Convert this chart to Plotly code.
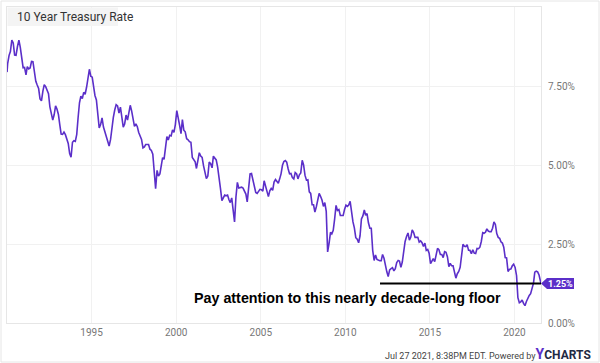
import plotly.graph_objects as go

# ---- Data (monthly 10-year Treasury rate, %) ----
years = list(range(1990, 2022))
rates_by_year = {
    1990: [8.21, 8.47, 8.59, 8.95, 8.86, 8.48, 8.47, 8.75, 8.95, 8.72, 8.39, 8.08],
    1991: [8.09, 7.85, 8.11, 8.04, 8.07, 8.28, 8.27, 7.90, 7.65, 7.53, 7.42, 7.09],
    1992: [7.03, 7.34, 7.54, 7.48, 7.39, 7.26, 6.84, 6.59, 6.42, 6.59, 6.87, 6.77],
    1993: [6.60, 6.26, 5.98, 5.97, 6.04, 5.96, 5.81, 5.68, 5.36, 5.25, 5.72, 5.77],
    1994: [5.75, 5.97, 6.48, 6.97, 7.18, 7.10, 7.30, 7.24, 7.46, 7.74, 8.03, 7.81],
    1995: [7.78, 7.47, 7.20, 7.06, 6.63, 6.17, 6.28, 6.49, 6.20, 6.04, 5.93, 5.71],
    1996: [5.60, 5.81, 6.27, 6.51, 6.74, 6.91, 6.87, 6.64, 6.83, 6.53, 6.20, 6.30],
    1997: [6.58, 6.42, 6.69, 6.89, 6.71, 6.49, 6.22, 6.30, 6.21, 6.03, 5.88, 5.81],
    1998: [5.54, 5.57, 5.65, 5.64, 5.65, 5.50, 5.46, 5.34, 4.81, 4.25, 4.83, 4.65],
    1999: [4.72, 5.00, 5.23, 5.18, 5.54, 5.90, 5.79, 5.94, 5.92, 6.11, 6.03, 6.28],
    2000: [6.72, 6.52, 6.26, 5.99, 6.44, 6.10, 6.05, 5.83, 5.80, 5.74, 5.72, 5.24],
    2001: [5.16, 5.10, 4.89, 5.14, 5.39, 5.28, 5.24, 4.97, 4.73, 4.57, 4.65, 5.09],
    2002: [5.04, 4.91, 5.28, 5.21, 5.16, 4.93, 4.65, 4.26, 3.87, 3.94, 4.05, 4.03],
    2003: [4.05, 3.90, 3.81, 3.96, 3.57, 3.20, 3.98, 4.45, 4.27, 4.29, 4.30, 4.27],
    2004: [4.15, 4.08, 3.83, 4.35, 4.72, 4.73, 4.50, 4.28, 4.13, 4.10, 4.19, 4.23],
    2005: [4.22, 4.17, 4.50, 4.34, 4.14, 4.00, 4.18, 4.26, 4.20, 4.46, 4.54, 4.47],
    2006: [4.42, 4.57, 4.72, 4.99, 5.11, 5.14, 5.09, 4.88, 4.72, 4.73, 4.60, 4.56],
    2007: [4.76, 4.72, 4.56, 4.69, 4.75, 5.15, 5.00, 4.67, 4.52, 4.53, 4.15, 4.10],
    2008: [3.74, 3.74, 3.51, 3.68, 3.88, 4.10, 4.01, 3.89, 3.69, 3.81, 3.53, 2.25],
    2009: [2.52, 2.87, 2.82, 2.93, 3.29, 3.72, 3.56, 3.59, 3.40, 3.39, 3.40, 3.59],
    2010: [3.73, 3.69, 3.73, 3.85, 3.42, 3.20, 3.01, 2.70, 2.65, 2.54, 2.76, 3.29],
    2011: [3.39, 3.58, 3.41, 3.46, 3.17, 3.00, 3.00, 2.30, 1.98, 2.15, 2.01, 1.98],
    2012: [1.97, 1.97, 2.17, 2.05, 1.80, 1.62, 1.47, 1.68, 1.72, 1.75, 1.65, 1.72],
    2013: [1.91, 1.98, 1.96, 1.76, 1.93, 2.30, 2.58, 2.74, 2.85, 2.62, 2.72, 2.95],
    2014: [2.86, 2.71, 2.72, 2.71, 2.56, 2.60, 2.54, 2.42, 2.53, 2.30, 2.33, 2.21],
    2015: [1.88, 1.98, 2.04, 1.94, 2.20, 2.36, 2.32, 2.17, 2.17, 2.07, 2.26, 2.24],
    2016: [2.09, 1.78, 1.89, 1.81, 1.81, 1.64, 1.42, 1.56, 1.63, 1.76, 2.14, 2.49],
    2017: [2.43, 2.42, 2.48, 2.30, 2.30, 2.19, 2.32, 2.21, 2.20, 2.36, 2.35, 2.40],
    2018: [2.58, 2.86, 2.84, 2.87, 2.98, 2.91, 2.89, 2.89, 3.00, 3.20, 3.12, 2.83],
    2019: [2.71, 2.68, 2.57, 2.53, 2.40, 2.07, 2.06, 1.63, 1.70, 1.71, 1.81, 1.86],
    2020: [1.76, 1.50, 0.80, 0.64, 0.67, 0.73, 0.62, 0.55, 0.68, 0.79, 0.87, 0.93],
    2021: [1.08, 1.26, 1.61, 1.64, 1.62, 1.52],
}
start_date = "1990-01-02"
start_rate = 7.94
end_date = "2021-07-27"
end_rate = 1.25
floor_start = "2012-01-20"
floor_level = 1.25

dates = [start_date]
rates = [start_rate]
for y in years:
    for m, v in enumerate(rates_by_year[y], start=1):
        dates.append(f"{y}-{m:02d}-15")
        rates.append(v)
dates.append(end_date)
rates.append(end_rate)

x_ticks = [f"{y}-01-01" for y in range(1995, 2021, 5)]
x_tick_labels = [str(y) for y in range(1995, 2021, 5)]
y_ticks = [0, 2.5, 5, 7.5]
y_tick_labels = ["0.00%", "2.50%", "5.00%", "7.50%"]

PURPLE = "#5b2fc9"

fig = go.Figure()
fig.add_trace(go.Scatter(x=dates, y=rates, mode="lines",
                         line=dict(color=PURPLE, width=1.6),
                         hoverinfo="skip", showlegend=False))

W, H = 600, 363
L, R, T, B = 7, 59, 7, 40
pw = W - L - R
ph = H - T - B

def px_x(p):
    return (p - L) / pw

def px_y(p):
    return (H - B - p) / ph

fig.update_layout(
    width=W, height=H,
    margin=dict(l=L, r=R, t=T, b=B),
    paper_bgcolor="white", plot_bgcolor="white",
    xaxis=dict(type="date", range=["1990-01-01", end_date],
               tickvals=x_ticks, ticktext=x_tick_labels,
               showgrid=True, gridcolor="#f1f1f1", gridwidth=1,
               showline=True, linecolor="#e6e6e6", mirror=True,
               zeroline=False, ticks="",
               tickfont=dict(family="Roboto", size=10, color="#777777")),
    yaxis=dict(range=[0, 10], side="right",
               tickvals=y_ticks, ticktext=y_tick_labels,
               showgrid=True, gridcolor="#f1f1f1", gridwidth=1,
               showline=True, linecolor="#e6e6e6", mirror=True,
               zeroline=False, ticks="", ticklabelstandoff=4,
               tickfont=dict(family="Roboto", size=10, color="#777777")),
    font=dict(family="Roboto"),
)

shapes = []
# outer frame
shapes.append(dict(type="rect", xref="paper", yref="paper",
                   x0=px_x(1), x1=px_x(599), y0=px_y(362), y1=px_y(1),
                   line=dict(color="#e6e6e6", width=1), layer="below"))
# title box
shapes.append(dict(type="rect", xref="paper", yref="paper",
                   x0=px_x(7.5), x1=px_x(118), y0=px_y(26), y1=px_y(7.5),
                   fillcolor="#f4f4f4", line=dict(width=0), layer="above"))
# floor line
shapes.append(dict(type="line", xref="x", yref="y",
                   x0=floor_start, x1=end_date, y0=floor_level, y1=floor_level,
                   line=dict(color="black", width=2)))
# current value marker (arrow + box)
yc = end_rate
dy = 5.5 / ph * 10
shapes.append(dict(type="path", xref="paper", yref="y",
                   path=f"M {px_x(541)},{yc} L {px_x(547)},{yc + dy} L {px_x(574)},{yc + dy} "
                        f"L {px_x(574)},{yc - dy} L {px_x(547)},{yc - dy} Z",
                   fillcolor=PURPLE, line=dict(width=0)))
fig.update_layout(shapes=shapes)

annotations = [
    dict(text="10 Year Treasury Rate", xref="paper", yref="paper",
         x=px_x(15), y=px_y(16.5), xanchor="left", yanchor="middle",
         showarrow=False, font=dict(family="Roboto", size=12, color="#333333")),
    dict(text="<b>1.25%</b>", xref="paper", yref="y",
         x=px_x(560.5), y=yc, xanchor="center", yanchor="middle",
         showarrow=False, font=dict(family="Roboto", size=9, color="white")),
    dict(text="<b>Pay attention to this nearly decade-long floor</b>",
         xref="paper", yref="paper", x=px_x(347.5), y=px_y(297.5),
         xanchor="center", yanchor="middle", showarrow=False,
         font=dict(family="Liberation Sans", size=14.3, color="black")),
    dict(text="Jul 27 2021, 8:38PM EDT. Powered by"
              f"<span style='font-size:14px;color:{PURPLE}'><b>Y</b></span>"
              "<span style='font-size:12px;color:#1f2a44'><b>CHARTS</b></span>",
         xref="paper", yref="paper", x=px_x(593), y=px_y(353.5),
         xanchor="right", yanchor="middle", showarrow=False,
         font=dict(family="Roboto", size=9, color="#444444")),
]
fig.update_layout(annotations=annotations)

fig.write_html("out.html",
               config={"displayModeBar": False, "staticPlot": True},
               post_script="document.body.style.margin='0';document.body.style.padding='0';document.body.style.overflow='hidden';")
